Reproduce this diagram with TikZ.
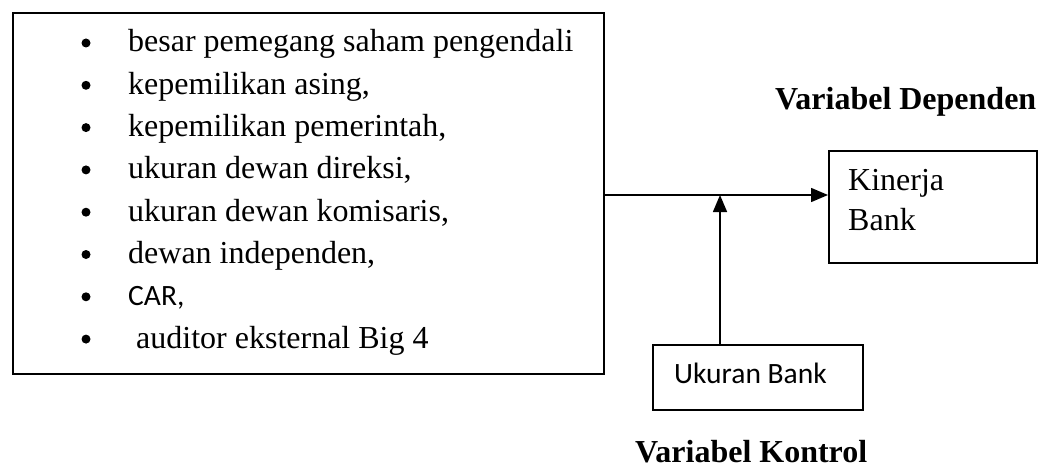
\documentclass[tikz,border=0pt]{standalone}
\usepackage{fontspec}
\setmainfont{Liberation Serif}
\newfontfamily\calibri{Carlito}
\usetikzlibrary{arrows.meta}
\begin{document}
\begin{tikzpicture}[x=1pt,y=-1pt,
  box/.style={draw,line width=1.6pt,rectangle,inner sep=0pt,anchor=north west},
  item/.style={inner sep=0pt,anchor=base west,font=\fontsize{32}{38}\selectfont},
  citem/.style={inner sep=0pt,anchor=base west,font=\calibri\fontsize{29.5}{35}\selectfont},
  head/.style={inner sep=0pt,anchor=base west,font=\bfseries\fontsize{32}{38}\selectfont},
  conn/.style={line width=1.5pt,-{Triangle[length=17pt,width=14pt]}},
  dot/.style={circle,fill,inner sep=0pt,minimum size=9pt}]
\useasboundingbox (0,0) rectangle (1046,468);
% left box
\node[box,minimum width=591pt,minimum height=361pt] (vars) at (12,12) {};
\foreach \i/\t in {0/besar pemegang saham pengendali,
                   1/kepemilikan asing{,},
                   2/kepemilikan pemerintah{,},
                   3/ukuran dewan direksi{,},
                   4/ukuran dewan komisaris{,},
                   5/dewan independen{,}}{
  \node[item] (t\i) at (128,52+42.3*\i) {\t};
  \node[dot] (b\i) at (86,43+42.3*\i) {};
}
\node[citem] (t6) at (128,52+42.3*6) {CAR,};
\node[dot] (b6) at (86,43+42.3*6) {};
\node[item] (t7) at (136,52+42.3*7) {auditor eksternal Big 4};
\node[dot] (b7) at (86,43+42.3*7) {};
% dependent
\node[head] (hdep) at (775,110) {Variabel Dependen};
\node[box,minimum width=208pt,minimum height=112pt] (kin) at (828,150) {};
\node[item] (k1) at (848,190) {Kinerja};
\node[item] (k2) at (848,230) {Bank};
% control
\node[box,minimum width=210pt,minimum height=65pt] (ukb) at (652,344) {};
\node[citem] (ukt) at (674,383) {Ukuran Bank};
\node[head] (hkon) at (635,462) {Variabel Kontrol};
% connectors
\coordinate (j) at (720,195);
\draw[conn] (vars.east |- j) -- (kin.west |- j);
\draw[conn] (ukb.north -| j) -- (j);
\end{tikzpicture}
\end{document}
